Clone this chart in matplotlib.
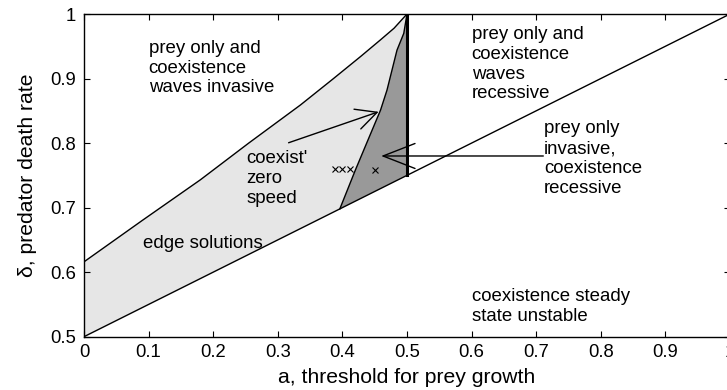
import matplotlib
matplotlib.use("Agg")
import matplotlib.pyplot as plt
import numpy as np

plt.rcParams['font.family'] = ['Liberation Sans', 'DejaVu Sans']

# boundary curves (a, delta)
upper_a = [0.0, 0.090, 0.180, 0.255, 0.335, 0.385, 0.428, 0.459, 0.480, 0.5]
upper_d = [0.616, 0.680, 0.743, 0.800, 0.859, 0.899, 0.934, 0.960, 0.978, 1.0]
dark_a = [0.396, 0.420, 0.438, 0.459, 0.469, 0.4845, 0.495, 0.5]
dark_d = [0.698, 0.758, 0.801, 0.851, 0.882, 0.944, 0.970, 1.0]
lower_a = [0.0, 1.0]
lower_d = [0.5, 1.0]
vert_a = [0.5, 0.5]
vert_d = [0.75, 1.0]
xxx_a = [0.389, 0.400, 0.411]
xxx_d = [0.76, 0.76, 0.76]
x1_a = [0.451]
x1_d = [0.759]

xticks = [0, 0.1, 0.2, 0.3, 0.4, 0.5, 0.6, 0.7, 0.8, 0.9, 1]
xticklabels = ['0', '0.1', '0.2', '0.3', '0.4', '0.5', '0.6', '0.7', '0.8', '0.9', '1']
yticks = [0.5, 0.6, 0.7, 0.8, 0.9, 1.0]
yticklabels = ['0.5', '0.6', '0.7', '0.8', '0.9', '1']

fig = plt.figure(figsize=(7.27, 3.90), dpi=100)
ax = fig.add_axes([84/727, 53.3/390, 646/727, 322.7/390])

def lower_at(a):
    return np.interp(a, lower_a, lower_d)

# light region
la = list(upper_a) + list(dark_a[::-1]) + [dark_a[0], 0.0]
ld = list(upper_d) + list(dark_d[::-1]) + [lower_at(dark_a[0]), lower_at(0.0)]
ax.fill(la, ld, color='#e6e6e6', lw=0, zorder=1)
# dark region
da = list(dark_a) + [vert_a[0], dark_a[0]]
dd = list(dark_d) + [vert_d[0], lower_at(dark_a[0])]
ax.fill(da, dd, color='#999999', lw=0, zorder=1)

ax.plot(upper_a, upper_d, color='black', lw=1.0, zorder=3)
ax.plot(dark_a, dark_d, color='black', lw=1.0, zorder=3)
ax.plot(lower_a, lower_d, color='black', lw=1.0, zorder=3)
ax.plot(vert_a, vert_d, color='black', lw=2.2, zorder=3)
ax.plot(xxx_a, xxx_d, ls='none', marker='x', color='black', ms=5, mew=0.8, zorder=4)
ax.plot(x1_a, x1_d, ls='none', marker='x', color='black', ms=5, mew=0.8, zorder=4)

fs = 13.4
ls = 1.21
ax.text(0.1, 0.960, "prey only and\ncoexistence\nwaves invasive", fontsize=fs, va='top', ha='left', linespacing=ls, zorder=5)
ax.text(0.6, 0.981, "prey only and\ncoexistence\nwaves\nrecessive", fontsize=fs, va='top', ha='left', linespacing=ls, zorder=5)
ax.text(0.712, 0.835, "prey only\ninvasive,\ncoexistence\nrecessive", fontsize=fs, va='top', ha='left', linespacing=ls, zorder=5)
ax.text(0.251, 0.789, "coexist'\nzero\nspeed", fontsize=fs, va='top', ha='left', linespacing=ls, zorder=5)
ax.text(0.091, 0.657, "edge solutions", fontsize=fs, va='top', ha='left', linespacing=ls, zorder=5)
ax.text(0.6, 0.575, "coexistence steady\nstate unstable", fontsize=fs, va='top', ha='left', linespacing=ls, zorder=5)

ax.annotate("", xy=(0.456, 0.8485), xytext=(0.3167, 0.8005),
            arrowprops=dict(arrowstyle="->,head_length=1.5,head_width=0.75",
                            color='black', lw=1.0, shrinkA=0, shrinkB=0), zorder=5)
ax.annotate("", xy=(0.460, 0.780), xytext=(0.711, 0.780),
            arrowprops=dict(arrowstyle="->,head_length=2.3,head_width=0.9",
                            color='black', lw=1.0, shrinkA=0, shrinkB=0), zorder=5)

ax.set_xlim(0, 1)
ax.set_ylim(0.5, 1)
ax.set_xticks(xticks)
ax.set_xticklabels(xticklabels)
ax.set_yticks(yticks)
ax.set_yticklabels(yticklabels)
ax.tick_params(direction='in', top=True, right=True, length=4.3, width=0.8,
               labelsize=13.3, pad=5)
ax.tick_params(axis='y', pad=6)
for s in ax.spines.values():
    s.set_linewidth(1.0)
ax.set_xlabel("a, threshold for prey growth", fontsize=15.2, labelpad=5)
ax.set_ylabel("δ, predator death rate", fontsize=15.2, labelpad=9.5)

fig.savefig("out.png", dpi=100)
